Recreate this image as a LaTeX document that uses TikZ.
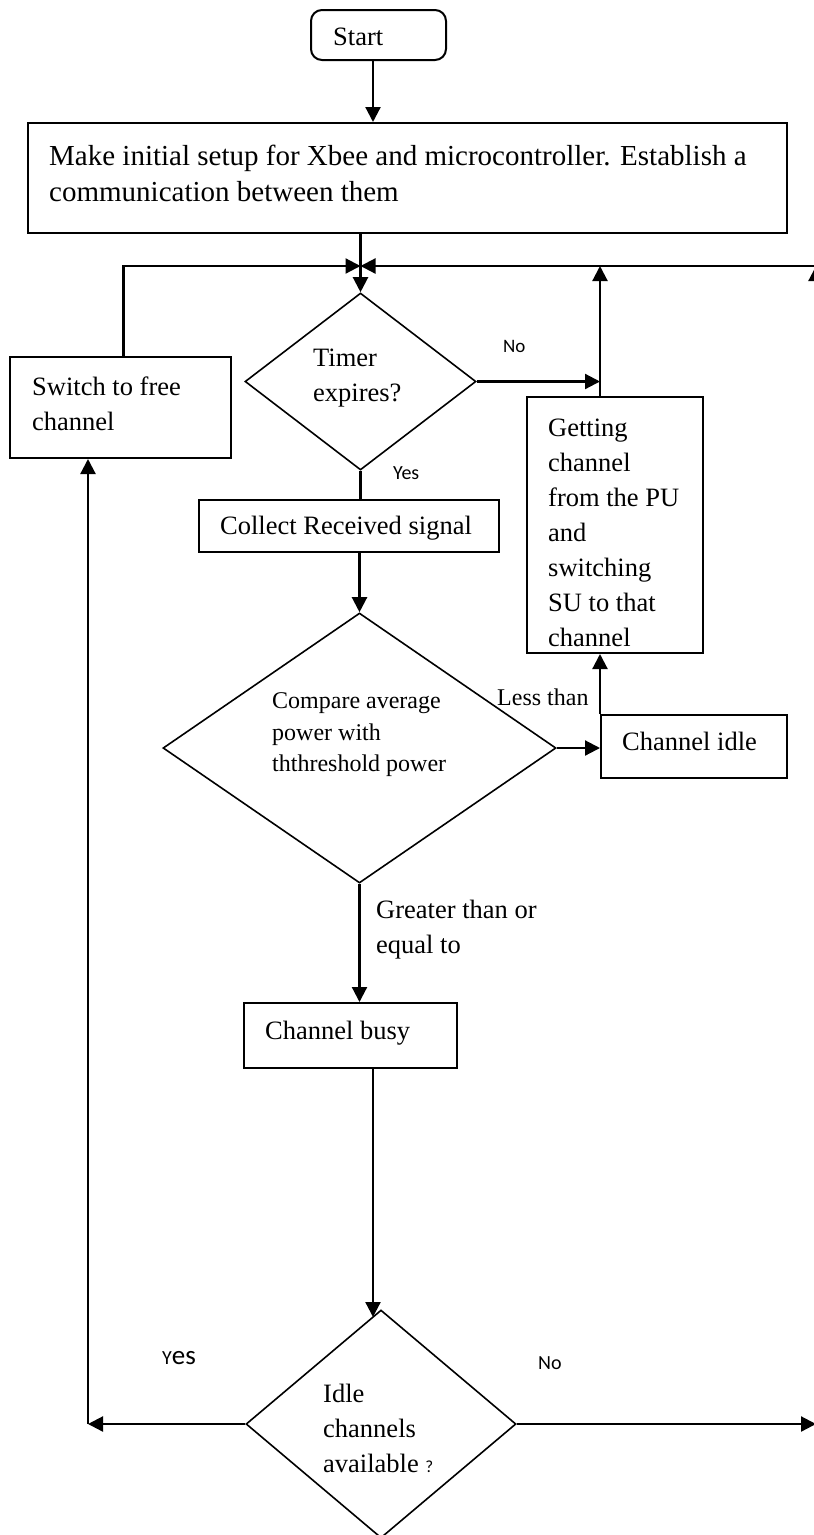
\documentclass[tikz,border=0pt]{standalone}
\usepackage{fontspec}
\setmainfont{Liberation Serif}
\newfontfamily\labfont{Carlito}
\usetikzlibrary{shapes.geometric,arrows.meta}

\begin{document}
\begin{tikzpicture}[x=1pt,y=-1pt,
    box/.style={draw,line width=2pt,inner sep=0pt},
    dia/.style={diamond,draw,line width=1.6pt,inner sep=0pt},
    txt/.style={anchor=west,align=left,inner sep=0pt,font=\fontsize{26.5}{35}\selectfont},
    lab/.style={anchor=west,inner sep=0pt,font=\labfont\fontsize{19}{19}\selectfont},
    wire/.style={line width=2.2pt},
    arr/.style={line width=2.2pt,-{Triangle[length=15pt,width=15pt]}}]
  \useasboundingbox (0,0) rectangle (814,1535);
  \clip (0,0) rectangle (814,1535);

  % boxes and decisions
  \node[box,rounded corners=11pt,minimum width=135pt,minimum height=50pt] (start) at (378.5,35) {};
  \node[txt] (starttxt) at (333,37) {Start};
  \node[box,minimum width=759pt,minimum height=110pt] (setup) at (407.5,178) {};
  \node[txt,font=\fontsize{29}{36}\selectfont] (setuptxt) at (49,173)
    {Make initial setup for Xbee and microcontroller. Establish a\\communication between them};
  \coordinate (jn) at (360.5,266);

  \node[dia,minimum width=231pt,minimum height=177pt] (timer) at (360.5,381.5) {};
  \node[txt] (timertxt) at (313,378) {Timer\\expires?};
  \node[box,minimum width=221pt,minimum height=101pt] (switch) at (120.5,407.5) {};
  \node[txt] (switchtxt) at (32,404) {Switch to free\\channel};
  \node[box,minimum width=176pt,minimum height=256pt] (getting) at (615,525) {};
  \node[txt] (gettingtxt) at (548,533)
    {Getting\\channel\\from the PU\\and\\switching\\SU to that\\channel};
  \node[box,minimum width=300pt,minimum height=52pt] (collect) at (349,526) {};
  \node[txt] (collecttxt) at (220,528) {Collect Received signal};

  \node[dia,minimum width=393pt,minimum height=270pt] (compare) at (359.5,748) {};
  \node[txt,font=\fontsize{24}{31.5}\selectfont] (comparetxt) at (272,735)
    {Compare average\\power with\\ththreshold power};
  \node[box,minimum width=186pt,minimum height=63pt] (idle) at (694,746.5) {};
  \node[txt] (idletxt) at (622,741) {Channel idle};
  \node[txt,font=\fontsize{24}{24}\selectfont] (lessthan) at (497,697) {Less than};
  \node[txt] (greater) at (376,930) {Greater than or\\equal to};
  \node[box,minimum width=213pt,minimum height=65pt] (busy) at (350.5,1035.5) {};
  \node[txt] (busytxt) at (265,1033) {Channel busy};

  \node[dia,minimum width=270pt,minimum height=228pt] (avail) at (381,1424) {};
  \node[txt] (availtxt) at (323,1428)
    {Idle\\channels\\available {\labfont\fontsize{17}{17}\selectfont ?}};

  % yes / no labels
  \node[lab] (no1) at (503,346) {No};
  \node[lab,font=\labfont\fontsize{20}{20}\selectfont] (yes1) at (393,473) {Yes};
  \node[lab,font=\labfont\fontsize{27}{27}\selectfont] (yes2) at (162,1358) {{\fontsize{20}{20}\selectfont Y}es};
  \node[lab,font=\labfont\fontsize{20}{20}\selectfont] (no2) at (538,1363) {No};

  % corners of the loops
  \coordinate (lt) at ([xshift=3pt]switch.north |- jn);
  \coordinate (rb) at (816,1424);
  \coordinate (rt) at (816,266);
  \coordinate (yc) at (88,1424);
  \coordinate (availin) at (373,1317);

  % connectors
  \draw[arr] ([xshift=-5.5pt]start.south) -- ([xshift=-5.5pt]start.south |- setup.north);
  \draw[arr] (setup.south -| jn) -- (timer.north);
  \draw[arr] ([xshift=3pt]switch.north) -- (lt) -- (jn);
  \draw[arr] (rb) -- (rt);
  \draw[arr] (rt) -- (jn);
  \draw[arr] (timer.east) -- (timer.east -| idle.north west);
  \draw[arr] (getting.north -| idle.north west) -- (jn -| idle.north west);
  \draw[wire] (timer.south) -- (collect.north -| timer.south);
  \draw[arr] (collect.south -| compare.north) -- (compare.north);
  \draw[arr] (compare.east) -- (compare.east -| idle.west);
  \draw[arr] (idle.north west) -- (idle.north west |- getting.south);
  \draw[arr] (compare.south) -- (compare.south |- busy.north);
  \draw[arr] ([xshift=22.5pt]busy.south) -- (availin);
  \draw[arr] (avail.west) -- (yc);
  \draw[arr] (yc) -- (yc |- switch.south);
  \draw[arr] (avail.east) -- (rb);
\end{tikzpicture}
\end{document}
